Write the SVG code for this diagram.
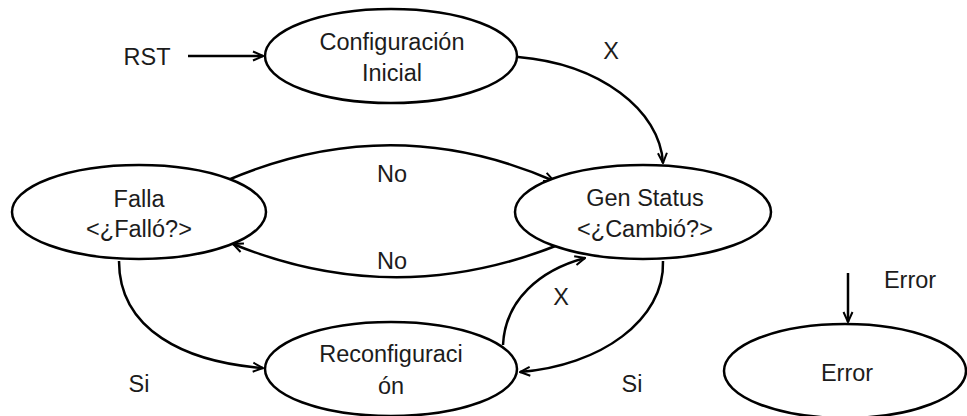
<svg xmlns="http://www.w3.org/2000/svg" width="967" height="416" viewBox="0 0 967 416">
<style>
.node ellipse{fill:#fff;stroke:#000;stroke-width:2.5}
text{font-family:"Liberation Sans",Arial,sans-serif;font-size:23.5px;fill:#1c1c1c;text-anchor:middle}
.conn path{fill:none;stroke:#000;stroke-width:2.5;marker-end:url(#arr)}
</style>
<defs>
<marker id="arr" viewBox="0 0 12 12" refX="11" refY="6" markerWidth="12" markerHeight="12" markerUnits="userSpaceOnUse" orient="auto">
<path d="M1,1.5 L11,6 L1,10.5" fill="none" stroke="#000" stroke-width="2"/>
</marker>
</defs>
<rect width="967" height="416" fill="#fff"/>
<g class="conn">
<path d="M188,56 L263,56"/>
<path d="M518,57 C600,64 660,110 663,163"/>
<path d="M228,180 Q392,110 554,181"/>
<path d="M558,245 Q395,310 233,244"/>
<path d="M119,261 C119,330 185,362 263,368"/>
<path d="M503,345 C505,300 540,270 585,258"/>
<path d="M663,261 C665,320 600,366 520,372"/>
<path d="M848,273 L848,322"/>
</g>
<g id="config" class="node"><ellipse cx="391" cy="56" rx="126" ry="47"/><text x="392" y="50">Configuración</text><text x="392" y="81">Inicial</text></g>
<g id="falla" class="node"><ellipse cx="139" cy="212" rx="127" ry="47"/><text x="139" y="207">Falla</text><text x="139" y="237">&lt;¿Falló?&gt;</text></g>
<g id="genstatus" class="node"><ellipse cx="643" cy="212" rx="128" ry="47"/><text x="645" y="206">Gen Status</text><text x="645" y="237">&lt;¿Cambió?&gt;</text></g>
<g id="reconfig" class="node"><ellipse cx="391" cy="369" rx="126" ry="47"/><text x="391" y="362">Reconfiguraci</text><text x="391" y="394">ón</text></g>
<g id="error" class="node"><ellipse cx="845" cy="371" rx="121" ry="47"/><text x="847" y="381">Error</text></g>
<g id="labels">
<text x="147" y="65">RST</text>
<text x="611" y="59">X</text>
<text x="392" y="182">No</text>
<text x="392" y="269">No</text>
<text x="561" y="305">X</text>
<text x="139" y="392">Si</text>
<text x="632" y="392">Si</text>
<text x="910" y="288">Error</text>
</g>
</svg>
